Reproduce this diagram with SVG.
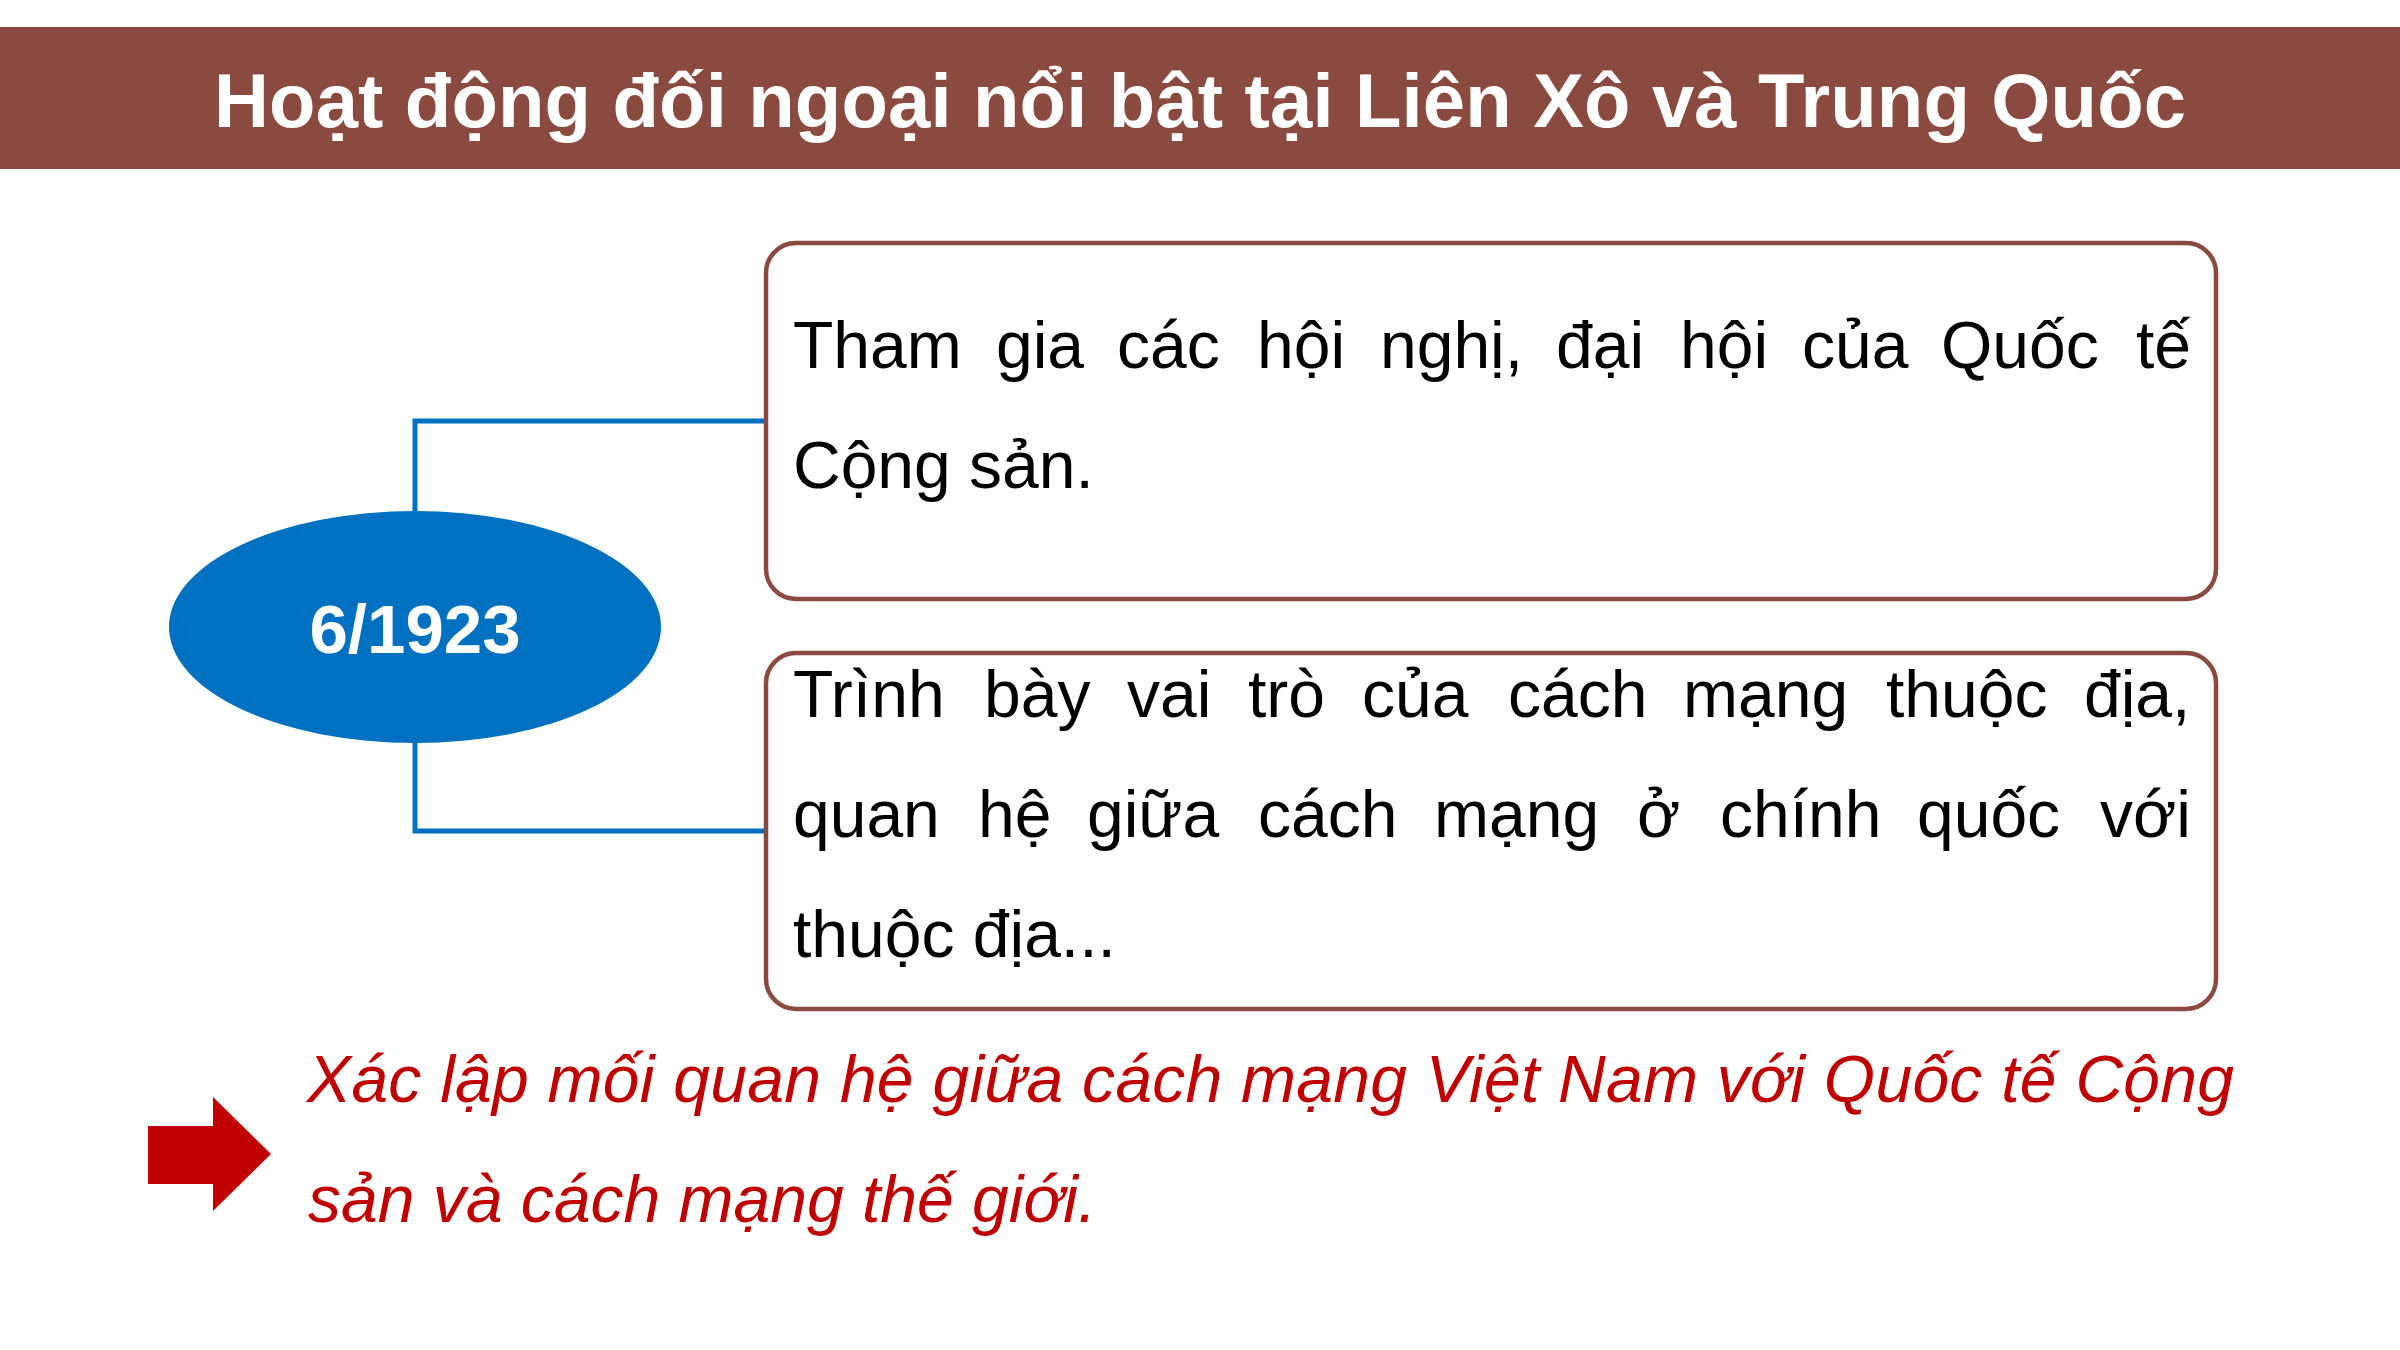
<svg xmlns="http://www.w3.org/2000/svg" width="2400" height="1350" viewBox="0 0 2400 1350">
<style>
.box{fill:#ffffff;stroke:#8B4A3F;stroke-width:4.5}
.conn{fill:none;stroke:#0070C0;stroke-width:5}
.body{font-family:"Liberation Sans",Arial,sans-serif;font-size:66px;fill:#000000}
.red{font-family:"Liberation Sans",Arial,sans-serif;font-size:66px;font-style:italic;fill:#C00000}
.title{font-family:"Liberation Sans",Arial,sans-serif;font-size:76px;font-weight:bold;fill:#ffffff}
.date{font-family:"Liberation Sans",Arial,sans-serif;font-size:69px;font-weight:bold;fill:#ffffff}
</style>
<rect width="2400" height="1350" fill="#ffffff"/>
<g id="header">
<rect x="0" y="27" width="2400" height="142" fill="#8B4A3F"/>
<text class="title" x="1200" y="127" text-anchor="middle" textLength="1972" lengthAdjust="spacing">Hoạt động đối ngoại nổi bật tại Liên Xô và Trung Quốc</text>
</g>
<g id="connectors">
<path class="conn" d="M767 421 H415 V515"/>
<path class="conn" d="M415 739 V831 H767"/>
</g>
<g id="node-date">
<ellipse cx="415" cy="627" rx="246" ry="116" fill="#0070C0"/>
<text class="date" x="415" y="653" text-anchor="middle">6/1923</text>
</g>
<g id="node-box1">
<rect class="box" x="766" y="243" width="1450" height="356" rx="30" ry="30"/>
<text class="body" y="368"><tspan x="793">Tham</tspan><tspan x="996">gia</tspan><tspan x="1117">các</tspan><tspan x="1257">hội</tspan><tspan x="1380">nghị,</tspan><tspan x="1556">đại</tspan><tspan x="1680">hội</tspan><tspan x="1802">của</tspan><tspan x="1941">Quốc</tspan><tspan x="2136">tế</tspan></text>
<text class="body" x="793" y="488">Cộng sản.</text>
</g>
<g id="node-box2">
<rect class="box" x="766" y="653" width="1450" height="356" rx="30" ry="30"/>
<text class="body" y="717"><tspan x="793">Trình</tspan><tspan x="984">bày</tspan><tspan x="1127">vai</tspan><tspan x="1248">trò</tspan><tspan x="1362">của</tspan><tspan x="1508">cách</tspan><tspan x="1683">mạng</tspan><tspan x="1886">thuộc</tspan><tspan x="2084">địa,</tspan></text>
<text class="body" y="837"><tspan x="793">quan</tspan><tspan x="978">hệ</tspan><tspan x="1087">giữa</tspan><tspan x="1258">cách</tspan><tspan x="1434">mạng</tspan><tspan x="1637">ở</tspan><tspan x="1720">chính</tspan><tspan x="1917">quốc</tspan><tspan x="2100">với</tspan></text>
<text class="body" x="793" y="957">thuộc địa...</text>
</g>
<g id="conclusion">
<polygon points="148,1126 213,1126 213,1097 271,1154 213,1211 213,1184 148,1184" fill="#C00000"/>
<text class="red" x="307" y="1102" textLength="1927" lengthAdjust="spacing">Xác lập mối quan hệ giữa cách mạng Việt Nam với Quốc tế Cộng</text>
<text class="red" x="308" y="1222">sản và cách mạng thế giới.</text>
</g>
</svg>
